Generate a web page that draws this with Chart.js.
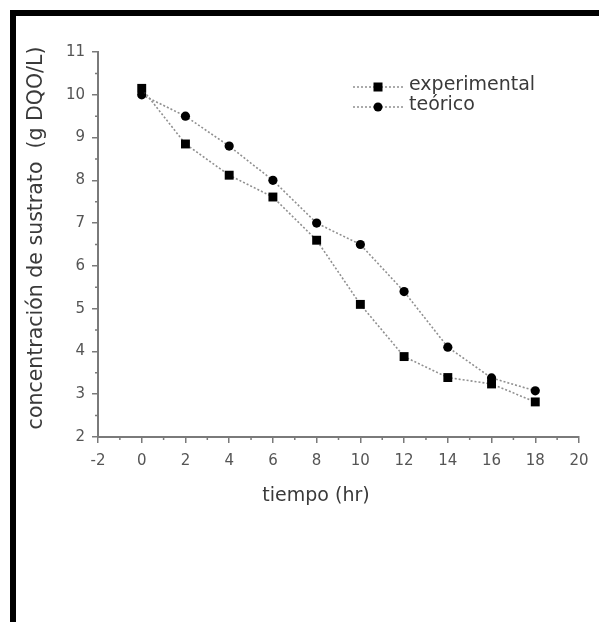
<!DOCTYPE html>
<html>
<head>
<meta charset="utf-8">
<script src="https://cdn.jsdelivr.net/npm/chart.js@4"></script>
<style>
  html, body { margin: 0; padding: 0; background: #fff; }
  #wrap { position: relative; width: 599px; height: 622px; }
  #frame {
    position: absolute; left: 10px; top: 10px; right: 0; bottom: 0;
    border-left: 6px solid #000; border-top: 6px solid #000;
    pointer-events: none;
  }
</style>
</head>
<body>
<div id="wrap">
  <canvas id="sustratoChart" width="599" height="622"></canvas>
  <div id="frame"></div>
</div>
<script>
// tiempo (hr)
const tiempo = [0, 2, 4, 6, 8, 10, 12, 14, 16, 18];
// concentración de sustrato (g DQO/L)
const experimental = [10.15, 8.85, 8.12, 7.61, 6.6, 5.1, 3.88, 3.39, 3.24, 2.82];
const teorico = [10.0, 9.5, 8.8, 8.0, 7.0, 6.5, 5.4, 4.1, 3.38, 3.08];
const seriesNames = ['experimental', 'teórico'];

const xTitle = 'tiempo (hr)';
const yTitle = 'concentración de sustrato  (g DQO/L)';

const FONT = '"DejaVu Sans", Verdana, sans-serif';
const AXIS = '#7a7a7a';
const LINE = '#909090';
const TEXT = '#3a3a3a';

function toPoints(xs, ys) {
    return xs.map((x, i) => ({ x, y: ys[i] }));
}

// small unlabelled ticks between the numbered ones
const minorTicks = {
    id: 'minorTicks',
    afterDraw(chart) {
        const { ctx, scales: { x, y } } = chart;
        ctx.save();
        ctx.strokeStyle = AXIS;
        ctx.lineWidth = 1.5;
        ctx.beginPath();
        for (let v = x.min + 1; v < x.max; v += 2) {
            const px = x.getPixelForValue(v);
            ctx.moveTo(px, x.top);
            ctx.lineTo(px, x.top + 3);
        }
        for (let v = y.min + 0.5; v < y.max; v += 1) {
            const py = y.getPixelForValue(v);
            ctx.moveTo(y.right, py);
            ctx.lineTo(y.right - 3, py);
        }
        ctx.stroke();
        ctx.restore();
    }
};

// axis titles, placed a little off the plot centre like the original figure
const axisTitles = {
    id: 'axisTitles',
    afterDraw(chart) {
        const { ctx } = chart;
        ctx.save();
        ctx.fillStyle = TEXT;
        ctx.textAlign = 'center';
        ctx.textBaseline = 'middle';
        ctx.font = '19px ' + FONT;
        ctx.fillText(xTitle, 316, 496);
        ctx.font = '20.5px ' + FONT;
        ctx.translate(37, 238);
        ctx.rotate(-Math.PI / 2);
        ctx.fillText(yTitle, 0, 0);
        ctx.restore();
    }
};

// legend: dotted line with the series marker, then the name
const lineLegend = {
    id: 'lineLegend',
    afterDraw(chart) {
        const { ctx } = chart;
        const x0 = 353, x1 = 405, tx = 409;
        const rows = [87, 107];
        ctx.save();
        chart.data.datasets.forEach((ds, i) => {
            const yy = rows[i];
            ctx.strokeStyle = LINE;
            ctx.lineWidth = 1.6;
            ctx.setLineDash([2, 2]);
            ctx.beginPath();
            ctx.moveTo(x0, yy);
            ctx.lineTo(x1, yy);
            ctx.stroke();
            ctx.setLineDash([]);
            ctx.fillStyle = '#000';
            const cx = 378;
            if (ds.pointStyle === 'rect') {
                ctx.fillRect(cx - 4.5, yy - 4.5, 9, 9);
            } else {
                ctx.beginPath();
                ctx.arc(cx, yy, 4.5, 0, Math.PI * 2);
                ctx.fill();
            }
            ctx.fillStyle = TEXT;
            ctx.font = '19px ' + FONT;
            ctx.textBaseline = 'alphabetic';
            ctx.fillText(ds.label, tx, yy + 3);
        });
        ctx.restore();
    }
};

new Chart(document.getElementById('sustratoChart'), {
    type: 'scatter',
    data: {
        datasets: [
            {
                label: seriesNames[0],
                data: toPoints(tiempo, experimental),
                showLine: true,
                borderColor: LINE,
                borderWidth: 1.6,
                borderDash: [2, 2],
                pointStyle: 'rect',
                pointRadius: 6.3,
                pointBackgroundColor: '#000',
                pointBorderColor: '#000',
                pointBorderWidth: 0
            },
            {
                label: seriesNames[1],
                data: toPoints(tiempo, teorico),
                showLine: true,
                borderColor: LINE,
                borderWidth: 1.6,
                borderDash: [2, 2],
                pointStyle: 'circle',
                pointRadius: 4.6,
                pointBackgroundColor: '#000',
                pointBorderColor: '#000',
                pointBorderWidth: 0
            }
        ]
    },
    options: {
        responsive: false,
        animation: false,
        layout: { padding: { left: 0, top: 52, right: 20, bottom: 0 } },
        plugins: {
            legend: { display: false },
            tooltip: { enabled: false }
        },
        scales: {
            x: {
                type: 'linear',
                min: -2,
                max: 20,
                afterFit: scale => { scale.height = 185; },
                border: { display: true, color: AXIS, width: 2 },
                grid: { drawOnChartArea: false, color: AXIS, lineWidth: 1.5, tickLength: 6 },
                ticks: {
                    stepSize: 2,
                    color: '#555',
                    padding: 9,
                    font: { family: FONT, size: 15 }
                }
            },
            y: {
                type: 'linear',
                min: 2,
                max: 11,
                afterFit: scale => { scale.width = 98; },
                border: { display: true, color: AXIS, width: 2 },
                grid: { drawOnChartArea: false, color: AXIS, lineWidth: 1.5, tickLength: 6 },
                ticks: {
                    stepSize: 1,
                    color: '#555',
                    padding: 7,
                    font: { family: FONT, size: 15 }
                }
            }
        }
    },
    plugins: [minorTicks, axisTitles, lineLegend]
});
</script>
</body>
</html>
